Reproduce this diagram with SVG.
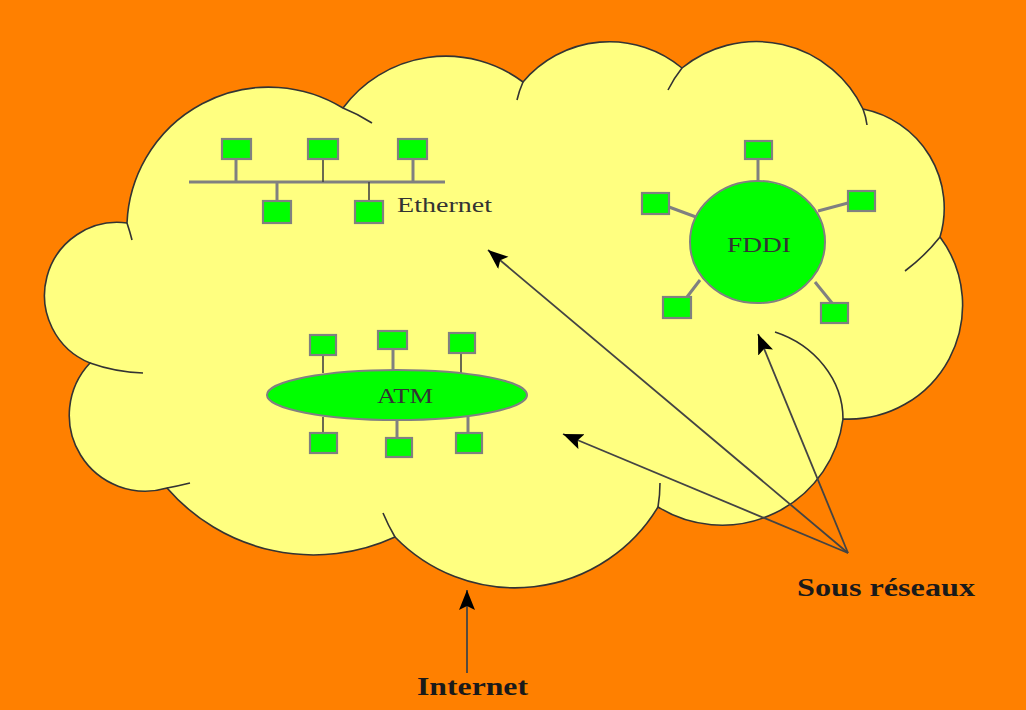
<svg xmlns="http://www.w3.org/2000/svg" width="1026" height="710" viewBox="0 0 1026 710">
<defs>
<style>
.cloud{fill:#ffff80;stroke:#333;stroke-width:1.6}
.tail{fill:none;stroke:#333;stroke-width:1.6}
.box{fill:#00ff00;stroke:#808080;stroke-width:2.2}
.wire{stroke:#808080;stroke-width:3}
.wire2{stroke:#444;stroke-width:1.6}
.hub{fill:#00ff00;stroke:#808080;stroke-width:2}
.lbl{font-family:"Liberation Serif","Times New Roman",serif;fill:#333}
.big{font-family:"Liberation Serif","Times New Roman",serif;font-weight:bold;fill:#1a1a1a;font-size:25px}
.arr{fill:none;stroke:#444;stroke-width:1.8}
</style>
<marker id="ah" markerUnits="userSpaceOnUse" markerWidth="22" markerHeight="18" refX="20" refY="8" orient="auto">
<path d="M0,0 L20,8 L0,16 L4,8 Z" fill="#000"/>
</marker>
</defs>
<rect width="1026" height="710" fill="#ff8000"/>
<g id="cloud">
<path class="cloud" d="M127,223 A142,142 0 0 1 343,108 A128,128 0 0 1 523,82 A113,113 0 0 1 682,68 A118,118 0 0 1 863,109 A101,101 0 0 1 940,237 A114,114 0 0 1 843,419 A122,122 0 0 1 658,507 A167,167 0 0 1 395,537 A194,194 0 0 1 167,488 A76,76 0 0 1 90,363 A73,73 0 0 1 127,223 Z"/>
<path class="tail" d="M127,223 Q130,232 132,240 M343,108 Q358,114 372,123 M523,82 Q519,91 517,100 M682,68 Q674,78 668,90 M863,109 Q866,117 867,125 M940,237 Q925,256 905,271 M843,419 C843,380 815,345 775,332 M658,507 Q660,495 660,483 M395,537 Q388,525 383,513 M167,488 Q178,486 190,483 M90,363 Q115,372 143,373"/>
</g>
<g id="ethernet">
<line class="wire" x1="189" y1="182" x2="445" y2="182"/>
<line class="wire" x1="236" y1="159" x2="236" y2="182"/>
<line class="wire2" x1="323" y1="159" x2="323" y2="182"/>
<line class="wire" x1="413" y1="159" x2="413" y2="182"/>
<line class="wire" x1="277" y1="182" x2="277" y2="201"/>
<line class="wire2" x1="369" y1="182" x2="369" y2="201"/>
<rect class="box" x="222" y="139" width="29" height="20"/>
<rect class="box" x="308" y="139" width="30" height="20"/>
<rect class="box" x="398" y="139" width="29" height="20"/>
<rect class="box" x="263" y="201" width="28" height="22"/>
<rect class="box" x="355" y="201" width="28" height="22"/>
<text class="lbl" x="397" y="212" font-size="22" textLength="95" lengthAdjust="spacingAndGlyphs">Ethernet</text>
</g>
<g id="fddi">
<line class="wire" x1="758" y1="159" x2="758" y2="181"/>
<line class="wire" x1="669" y1="207" x2="696" y2="217"/>
<line class="wire" x1="848" y1="203" x2="818" y2="211"/>
<line class="wire" x1="687" y1="297" x2="700" y2="280"/>
<line class="wire" x1="815" y1="282" x2="832" y2="303"/>
<ellipse class="hub" cx="757.5" cy="242" rx="67.5" ry="61"/>
<rect class="box" x="745" y="141" width="27" height="18"/>
<rect class="box" x="642" y="193" width="27" height="21"/>
<rect class="box" x="848" y="191" width="27" height="20"/>
<rect class="box" x="663" y="297" width="28" height="21"/>
<rect class="box" x="821" y="303" width="27" height="20"/>
<text class="lbl" x="727" y="252" font-size="22" textLength="64" lengthAdjust="spacingAndGlyphs">FDDI</text>
</g>
<g id="atm">
<line class="wire2" x1="323" y1="355" x2="323" y2="373"/>
<line class="wire" x1="393" y1="349" x2="393" y2="370"/>
<line class="wire2" x1="461" y1="353" x2="461" y2="373"/>
<line class="wire2" x1="323" y1="417" x2="323" y2="433"/>
<line class="wire" x1="397" y1="420" x2="397" y2="438"/>
<line class="wire" x1="468" y1="417" x2="468" y2="433"/>
<ellipse class="hub" cx="397" cy="395" rx="130" ry="25"/>
<rect class="box" x="310" y="335" width="26" height="20"/>
<rect class="box" x="378" y="331" width="29" height="18"/>
<rect class="box" x="449" y="333" width="26" height="20"/>
<rect class="box" x="310" y="433" width="27" height="20"/>
<rect class="box" x="386" y="438" width="26" height="19"/>
<rect class="box" x="456" y="433" width="26" height="20"/>
<text class="lbl" x="377" y="403" font-size="20" textLength="56" lengthAdjust="spacingAndGlyphs">ATM</text>
</g>
<g id="connectors">
<line class="arr" x1="848" y1="553" x2="488" y2="250" marker-end="url(#ah)"/>
<line class="arr" x1="848" y1="553" x2="563" y2="434" marker-end="url(#ah)"/>
<line class="arr" x1="848" y1="553" x2="758" y2="334" marker-end="url(#ah)"/>
<line class="arr" x1="467" y1="673" x2="467" y2="590" stroke-width="3" marker-end="url(#ah)"/>
</g>
<g id="labels">
<text class="big" x="797" y="596" textLength="178" lengthAdjust="spacingAndGlyphs">Sous réseaux</text>
<text class="big" x="417" y="695" textLength="111" lengthAdjust="spacingAndGlyphs">Internet</text>
</g>
</svg>
